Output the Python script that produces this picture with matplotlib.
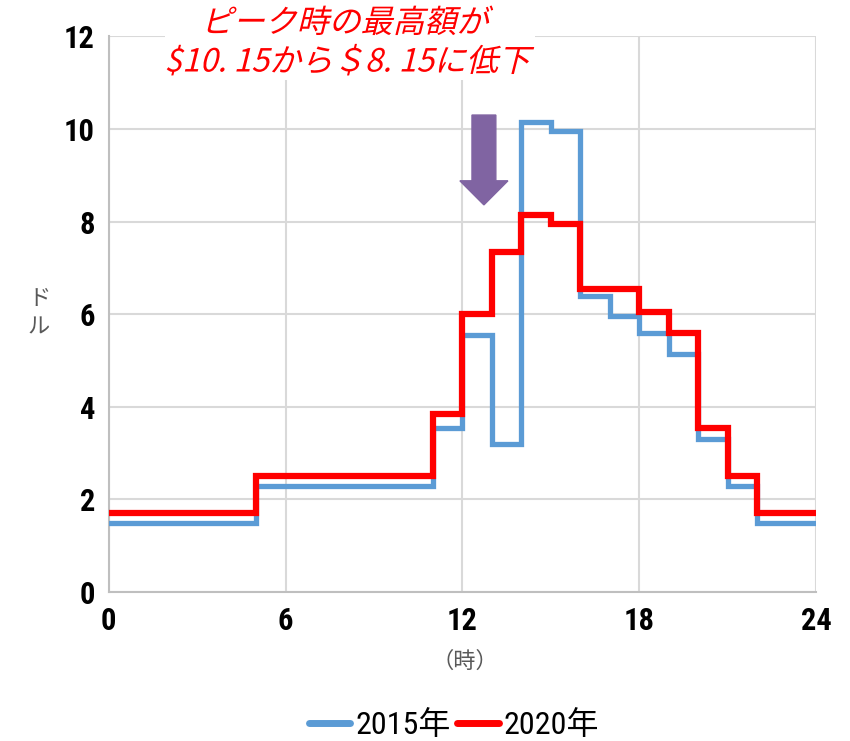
import matplotlib
matplotlib.use("Agg")
import matplotlib.pyplot as plt
from matplotlib import font_manager
from matplotlib.font_manager import FontProperties
from matplotlib.textpath import TextPath
from matplotlib.patches import PathPatch, Rectangle
from matplotlib.lines import Line2D
from matplotlib.transforms import Affine2D
import numpy as np

# narrow font for the numbers, CJK font for the japanese text
avail = {f.name for f in font_manager.fontManager.ttflist}
narrow = 'DejaVu Sans'
for cand in ['Roboto Condensed', 'Arial Narrow', 'Liberation Sans Narrow', 'PT Sans Narrow',
             'Archivo Narrow', 'Open Sans Condensed', 'Pragati Narrow']:
    if cand in avail:
        narrow = cand
        break
plt.rcParams['font.family'] = [narrow, 'Noto Sans CJK JP', 'DejaVu Sans']

# hourly price (ドル), hour 0..23
hours = np.arange(25)
price_2015 = [1.5, 1.5, 1.5, 1.5, 1.5, 2.3, 2.3, 2.3, 2.3, 2.3, 2.3, 3.55,
              5.55, 3.2, 10.15, 9.95, 6.4, 5.95, 5.6, 5.15, 3.3, 2.3, 1.5, 1.5]
price_2020 = [1.7, 1.7, 1.7, 1.7, 1.7, 2.5, 2.5, 2.5, 2.5, 2.5, 2.5, 3.85,
              6.0, 7.35, 8.15, 7.95, 6.55, 6.55, 6.05, 5.6, 3.55, 2.5, 1.7, 1.7]
labels = ['2015年', '2020年']
colors = ['#5B9BD5', '#FF0000']
xticks = [0, 6, 12, 18, 24]
yticks = [0, 2, 4, 6, 8, 10, 12]
title_lines = ['ピーク時の最高額が', '$10. 15から＄8. 15に低下']

fig = plt.figure(figsize=(8.5, 7.41), dpi=100)
ax = fig.add_axes([0.128, 0.201, 0.832, 0.75])

ax.step(hours, price_2015 + [price_2015[-1]], where='post', color=colors[0],
        lw=3.8, solid_joinstyle='miter', zorder=3)
ax.step(hours, price_2020 + [price_2020[-1]], where='post', color=colors[1],
        lw=4.5, solid_joinstyle='miter', zorder=4)

ax.set_xlim(0, 24)
ax.set_ylim(0, 12)
ax.set_xticks(xticks)
ax.set_yticks(yticks)
ax.grid(True, color='#D9D9D9', lw=1.5)
ax.set_axisbelow(True)
for s in ['top', 'right']:
    ax.spines[s].set_visible(False)
for s in ['left', 'bottom']:
    ax.spines[s].set_color('#BFBFBF')
    ax.spines[s].set_linewidth(1.5)
ax.tick_params(length=0, labelsize=22, pad=10)
for t in ax.get_xticklabels() + ax.get_yticklabels():
    t.set_fontweight('bold')

# 下向き矢印
ax.arrow(12.73, 10.3, 0, -1.94, width=0.81, head_width=1.63, head_length=0.52,
         length_includes_head=True, color='#8064A2', zorder=5)

fig.text(0.046, 0.578, 'ド\nル', color='#595959', fontsize=16, ha='center',
         va='center', linespacing=1.3, family='Noto Sans CJK JP')
fig.text(0.547, 0.107, '（時）', color='#595959', fontsize=16, ha='center',
         va='center', family='Noto Sans CJK JP')

# white box behind the heading (hides the top gridline)
fig.add_artist(Rectangle((165 / 850, 1 - 80 / 741), 370 / 850, 76 / 741,
                         transform=fig.transFigure, facecolor='white',
                         edgecolor='none', zorder=5))

# italic heading: skewed text paths
fp = FontProperties(family='Noto Sans CJK JP', size=23)
for line, yc in zip(title_lines, [21, 60]):
    tp = TextPath((0, 0), line, prop=fp)
    ext = tp.get_extents()
    w = ext.width
    h = 23 * 0.36
    tr = (Affine2D().translate(-ext.x0 - w / 2, -h).skew_deg(14, 0).scale(1 / 72)
          .translate(350 / 100, (741 - yc) / 100) + fig.dpi_scale_trans)
    fig.add_artist(PathPatch(tp, transform=tr, facecolor='#FF0000',
                             edgecolor='none', zorder=6))

handles = [Line2D([], [], color=c, lw=5, solid_capstyle='round') for c in colors]
ax.legend(handles, labels, loc='center', bbox_to_anchor=(0.488, -0.239), ncol=2,
          frameon=False, fontsize=23, handlelength=1.3, columnspacing=0.2,
          handletextpad=0.15)

fig.savefig('out.png', dpi=100)
